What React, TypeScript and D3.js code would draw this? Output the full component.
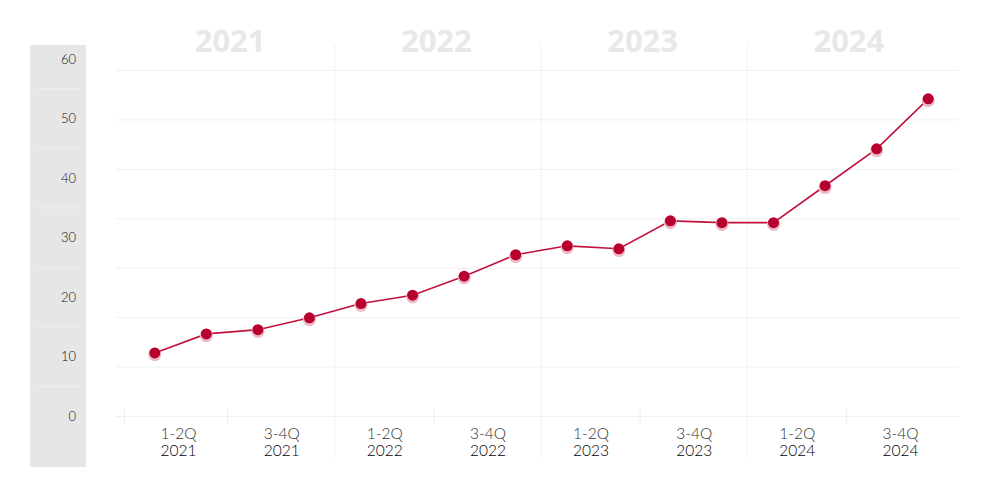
import React, { useRef, useEffect } from "react";
import * as d3 from "d3";

const years = ["2021", "2022", "2023", "2024"];
const halves = ["1-2Q", "3-4Q"];
const quarters = [
  "2021Q1", "2021Q2", "2021Q3", "2021Q4",
  "2022Q1", "2022Q2", "2022Q3", "2022Q4",
  "2023Q1", "2023Q2", "2023Q3", "2023Q4",
  "2024Q1", "2024Q2", "2024Q3", "2024Q4",
];
const values = [
  10.6, 13.8, 14.5, 16.5, 18.9, 20.3, 23.5, 27.1,
  28.6, 28.1, 32.8, 32.5, 32.5, 38.7, 44.9, 53.3,
];
const yTicks = [0, 10, 20, 30, 40, 50, 60];
const gridSteps = [0, 1, 2, 3, 4, 5, 6, 7];

const W = 1000;
const H = 497;

const App: React.FC = () => {
  const ref = useRef<SVGSVGElement | null>(null);

  useEffect(() => {
    const svg = d3.select(ref.current);
    svg.selectAll("*").remove();

    const font = "Lato, 'Open Sans', sans-serif";
    const left = 129;
    const right = 954;

    const x = d3.scaleBand<string>().domain(quarters).range([left, right]);
    const xHalf = d3
      .scaleBand<string>()
      .domain(years.flatMap((yr) => halves.map((h) => `${h} ${yr}`)))
      .range([left, right]);
    const xYear = d3.scaleBand<string>().domain(years).range([left, right]);
    const y = d3.scaleLinear().domain([0, 60]).range([416, 59]);
    const grid = d3.scaleLinear().domain([0, 7]).range([416, 70]);

    // grey axis band
    svg
      .append("rect")
      .attr("x", 30)
      .attr("y", 45)
      .attr("width", 56)
      .attr("height", 422)
      .attr("fill", "#e6e6e6");
    svg
      .append("g")
      .selectAll("line")
      .data(yTicks.slice(0, -1))
      .enter()
      .append("line")
      .attr("x1", 36)
      .attr("x2", 80)
      .attr("y1", (d) => y(d + 5))
      .attr("y2", (d) => y(d + 5))
      .attr("stroke", "#eeeeee")
      .attr("stroke-width", 1);
    svg
      .append("g")
      .selectAll("text")
      .data(yTicks)
      .enter()
      .append("text")
      .attr("x", 76)
      .attr("y", (d) => y(d))
      .attr("dy", "0.35em")
      .attr("text-anchor", "end")
      .attr("fill", "#111")
      .style("font-family", font)
      .style("font-weight", 300)
      .style("font-size", "13px")
      .text((d) => d);

    // horizontal grid
    svg
      .append("g")
      .selectAll("line")
      .data(gridSteps)
      .enter()
      .append("line")
      .attr("x1", 116)
      .attr("x2", 958)
      .attr("y1", (d) => grid(d) + 0.5)
      .attr("y2", (d) => grid(d) + 0.5)
      .attr("stroke", "#f0f0f0")
      .attr("stroke-width", 1);

    // year separators
    svg
      .append("g")
      .selectAll("line")
      .data(years.slice(1))
      .enter()
      .append("line")
      .attr("x1", (d) => (xYear(d) as number) - 0.5)
      .attr("x2", (d) => (xYear(d) as number) - 0.5)
      .attr("y1", 44)
      .attr("y2", 458)
      .attr("stroke", "#f2f2f2")
      .attr("stroke-width", 1);

    // half-year ticks
    svg
      .append("g")
      .selectAll("line")
      .data(xHalf.domain().filter((d) => d.startsWith("3-4Q")).concat([xHalf.domain()[0]]))
      .enter()
      .append("line")
      .attr("x1", (d) => (xHalf(d) as number) - 4.5)
      .attr("x2", (d) => (xHalf(d) as number) - 4.5)
      .attr("y1", 409)
      .attr("y2", 424)
      .attr("stroke", "#ececec")
      .attr("stroke-width", 1);

    // year headers
    svg
      .append("g")
      .selectAll("text")
      .data(years)
      .enter()
      .append("text")
      .attr("x", (d) => (xYear(d) as number) + xYear.bandwidth() / 2 - 2)
      .attr("y", 52)
      .attr("text-anchor", "middle")
      .attr("fill", "#e8e8e8")
      .style("font-family", "'Open Sans', sans-serif")
      .style("font-weight", "bold")
      .style("font-size", "31px")
      .text((d) => d);

    // x labels
    const lbl = svg
      .append("g")
      .selectAll("g")
      .data(xHalf.domain())
      .enter()
      .append("g")
      .attr(
        "transform",
        (d) => `translate(${(xHalf(d) as number) + xHalf.bandwidth() / 2 - 2},0)`,
      );
    lbl
      .append("text")
      .attr("y", 439)
      .attr("text-anchor", "middle")
      .attr("fill", "#333")
      .style("font-family", font)
      .style("font-weight", 300)
      .style("font-size", "15.5px")
      .text((d) => d.split(" ")[0]);
    lbl
      .append("text")
      .attr("y", 456)
      .attr("text-anchor", "middle")
      .attr("fill", "#000")
      .style("font-family", font)
      .style("font-weight", 300)
      .style("font-size", "15.5px")
      .text((d) => d.split(" ")[1]);

    const cx = (d: string) => (x(d) as number) + x.bandwidth() / 2;
    const pts = quarters.map((q, i) => ({ q, v: values[i] }));

    // line
    const line = d3
      .line<{ q: string; v: number }>()
      .x((d) => cx(d.q))
      .y((d) => y(d.v));
    svg
      .append("path")
      .datum(pts)
      .attr("fill", "none")
      .attr("stroke", "#c0123c")
      .attr("stroke-width", 1.6)
      .attr("d", line);

    // halos
    svg
      .append("g")
      .selectAll("circle")
      .data(pts)
      .enter()
      .append("circle")
      .attr("cx", (d) => cx(d.q))
      .attr("cy", (d) => y(d.v) + 1.8)
      .attr("r", 6.5)
      .attr("fill", "#ecbcc8");

    svg
      .append("g")
      .selectAll("circle")
      .data(pts)
      .enter()
      .append("circle")
      .attr("cx", (d) => cx(d.q))
      .attr("cy", (d) => y(d.v))
      .attr("r", 5.5)
      .attr("fill", "#b8002e");
  }, []);

  return (
    <svg
      ref={ref}
      width={W}
      height={H}
      style={{ display: "block", position: "absolute", left: 0, top: 0, background: "#fff" }}
    />
  );
};

export default App;
